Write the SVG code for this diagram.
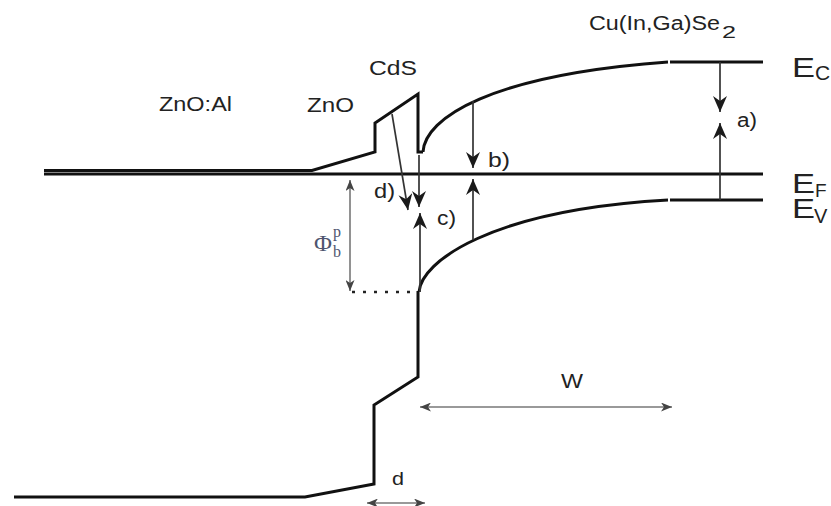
<svg xmlns="http://www.w3.org/2000/svg" width="831" height="506" viewBox="0 0 831 506">
  <style>
    .band { fill: none; stroke: #111; stroke-width: 3; stroke-linejoin: miter; }
    .arr { fill: none; stroke: #333; stroke-width: 1.7; }
    .garr { fill: none; stroke: #777; stroke-width: 1.6; }
    .lbl { font-family: "Liberation Sans", Arial, sans-serif; fill: #222; }
    .phi { font-family: "Liberation Serif", "Times New Roman", serif; fill: #4f5570; }
  </style>
  <defs>
    <marker id="ah" viewBox="0 0 16 14" refX="16" refY="7" markerWidth="16" markerHeight="14" markerUnits="userSpaceOnUse" orient="auto">
      <path d="M0,0 L16,7 L0,14 L5,7 z" fill="#1a1a1a"/>
    </marker>
    <marker id="gh" viewBox="0 0 11 9" refX="11" refY="4.5" markerWidth="11" markerHeight="9" markerUnits="userSpaceOnUse" orient="auto-start-reverse">
      <path d="M0,0 L11,4.5 L0,9 L3,4.5 z" fill="#444"/>
    </marker>
  </defs>

  <g id="bands">
    <!-- conduction band -->
    <path class="band" d="M44,170.5 L312,170.5 L375,152 L375,123 L418,94 L418,152 L423,152"/>
    <path class="band" d="M423,152 C425,118 490,75 668,62"/>
    <line class="band" x1="670" y1="62" x2="763" y2="62"/>
    <!-- Fermi level -->
    <line class="band" x1="44" y1="174" x2="763" y2="174" stroke-width="2.5"/>
    <!-- valence band -->
    <path class="band" d="M668,200 C490,210 421,262 419,292"/>
    <line class="band" x1="670" y1="200" x2="763" y2="200"/>
    <path class="band" d="M418,291 L418,377 L374,405 L374,484 L305,497 L14,497"/>
    <!-- dotted -->
    <line x1="352" y1="292" x2="412" y2="292" stroke="#222" stroke-width="2.5" stroke-dasharray="3,8"/>
  </g>

  <g id="connectors">
    <!-- a) -->
    <line class="arr" x1="720" y1="62" x2="720" y2="112" marker-end="url(#ah)"/>
    <line class="arr" x1="720" y1="200" x2="720" y2="123" marker-end="url(#ah)"/>
    <!-- b) -->
    <line class="arr" x1="473" y1="101" x2="473" y2="168" marker-end="url(#ah)"/>
    <line class="arr" x1="473" y1="240" x2="473" y2="179" marker-end="url(#ah)"/>
    <!-- c) -->
    <line class="arr" x1="419" y1="155" x2="419" y2="207" marker-end="url(#ah)"/>
    <line class="arr" x1="420" y1="292" x2="420" y2="213" marker-end="url(#ah)"/>
    <!-- d) -->
    <line class="arr" x1="392" y1="114" x2="408" y2="210" marker-end="url(#ah)"/>
    <!-- phi -->
    <line class="garr" x1="350" y1="180" x2="350" y2="291" marker-start="url(#gh)" marker-end="url(#gh)"/>
    <!-- W -->
    <line class="garr" x1="420" y1="407" x2="672" y2="407" marker-start="url(#gh)" marker-end="url(#gh)"/>
    <!-- d -->
    <line class="garr" x1="367" y1="503" x2="425" y2="503" marker-start="url(#gh)" marker-end="url(#gh)"/>
  </g>

  <g id="labels">
    <text class="lbl" x="159" y="111" font-size="20" textLength="73" lengthAdjust="spacingAndGlyphs">ZnO:Al</text>
    <text class="lbl" x="307" y="112" font-size="20" textLength="47" lengthAdjust="spacingAndGlyphs">ZnO</text>
    <text class="lbl" x="369" y="75" font-size="20" textLength="48" lengthAdjust="spacingAndGlyphs">CdS</text>
    <text class="lbl" x="589" y="30" font-size="20" textLength="131" lengthAdjust="spacingAndGlyphs">Cu(In,Ga)Se</text>
    <text class="lbl" x="722" y="38" font-size="17" textLength="14" lengthAdjust="spacingAndGlyphs">2</text>

    <text class="lbl" x="792" y="77" font-size="28" textLength="23" lengthAdjust="spacingAndGlyphs">E</text>
    <text class="lbl" x="815" y="80" font-size="21">C</text>
    <text class="lbl" x="792" y="193" font-size="27" textLength="23" lengthAdjust="spacingAndGlyphs">E</text>
    <text class="lbl" x="815" y="197" font-size="19">F</text>
    <text class="lbl" x="792" y="218" font-size="27" textLength="23" lengthAdjust="spacingAndGlyphs">E</text>
    <text class="lbl" x="814" y="223" font-size="20">V</text>

    <text class="lbl" x="737" y="127" font-size="20" textLength="20" lengthAdjust="spacingAndGlyphs">a)</text>
    <text class="lbl" x="488" y="167" font-size="20" textLength="22" lengthAdjust="spacingAndGlyphs">b)</text>
    <text class="lbl" x="437" y="225" font-size="20" textLength="19" lengthAdjust="spacingAndGlyphs">c)</text>
    <text class="lbl" x="374" y="198" font-size="20" textLength="21" lengthAdjust="spacingAndGlyphs">d)</text>

    <text class="phi" x="314" y="251" font-size="24" textLength="18" lengthAdjust="spacingAndGlyphs">Φ</text>
    <text class="phi" x="333" y="237" font-size="16">p</text>
    <text class="phi" x="333" y="257" font-size="16">b</text>

    <text class="lbl" x="561" y="388" font-size="21" textLength="22" lengthAdjust="spacingAndGlyphs">W</text>
    <text class="lbl" x="392" y="485" font-size="18" textLength="12" lengthAdjust="spacingAndGlyphs">d</text>
  </g>
</svg>
